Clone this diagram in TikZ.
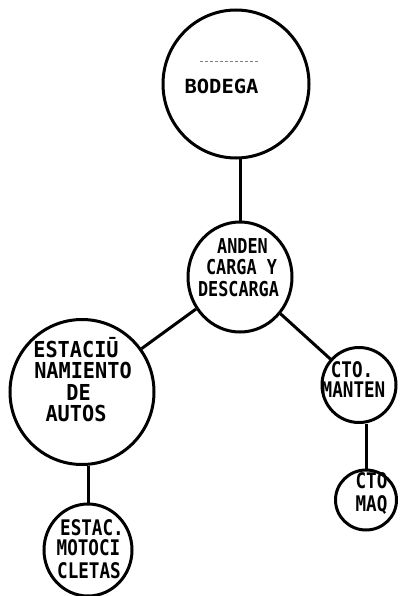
\documentclass[tikz,border=0pt]{standalone}
\usepackage{fontspec}
\setmainfont{DejaVu Sans Mono}
\newfontfamily\fwide{DejaVu Sans Mono}[FakeStretch=1.05]
\newfontfamily\fnarrow{DejaVu Sans Mono}[FakeStretch=0.82]
\newfontfamily\fmid{DejaVu Sans Mono}[FakeStretch=0.92]
\usetikzlibrary{shapes.geometric}
\begin{document}
\begin{tikzpicture}[x=1pt,y=-1pt,
  room/.style={draw=black, line width=3pt, ellipse, inner sep=0pt},
  link/.style={draw=black, line width=3pt},
  lbl/.style={inner sep=0pt, anchor=center, text=black},
  fa/.style={font=\fnarrow\bfseries\fontsize{20.5}{20}\selectfont},
  fb/.style={font=\fnarrow\bfseries\fontsize{21.5}{21}\selectfont},
  fc/.style={font=\fmid\bfseries\fontsize{22}{22}\selectfont}]
\useasboundingbox[fill=white] (0,0) rectangle (399,596);
% rooms
\node[room, minimum width=146pt, minimum height=148pt] (bodega) at (236,84) {};
\node[room, minimum width=104pt, minimum height=110pt] (anden) at (240,277) {};
\node[room, minimum width=144pt, minimum height=145pt] (estac) at (82,392) {};
\node[room, minimum width=74pt, minimum height=75pt] (manten) at (359,385) {};
\node[room, minimum width=61pt, minimum height=60pt] (maq) at (366,500) {};
\node[room, minimum width=88pt, minimum height=92pt] (moto) at (88,550) {};
% connectors
\draw[link] (anden.north) -- (anden.north |- bodega.south);
\draw[link] (anden) -- (estac);
\draw[link] (anden) -- (manten);
\draw[link] (maq.north) -- (maq.north |- manten.south);
\draw[link] (moto.north) -- (moto.north |- estac.south);
% faint stroke in BODEGA
\draw[gray, line width=0.8pt, dash pattern=on 3pt off 2pt] (200,61) -- (258,61);
% labels
\node[lbl, font=\fwide\bfseries\fontsize{19.5}{19}\selectfont] (tbod) at (221.5,86.5) {BODEGA};
\node[lbl, fa] (tan1) at (242.5,246.5) {ANDEN};
\node[lbl, fa] (tan2) at (241.5,267.5) {CARGA Y};
\node[lbl, fa] (tan3) at (238.5,289.5) {DESCARGA};
\node[lbl, fc] (tes1) at (76,348) {ESTACIŪ};
\node[lbl, fc] (tes2) at (83,370) {NAMIENTO};
\node[lbl, fc] (tes3) at (78.5,392.5) {DE};
\node[lbl, fc] (tes4) at (76,413.5) {AUTOS};
\node[lbl, fb] (tmo1) at (92,527.5) {ESTAC.};
\node[lbl, fb] (tmo2) at (88.5,548) {MOTOCI};
\node[lbl, fb] (tmo3) at (89,570.5) {CLETAS};
\node[lbl, fb] (tma1) at (352,370) {CTO.};
\node[lbl, fb] (tma2) at (353.5,390) {MANTEN};
\node[lbl, fb] (tmq1) at (371.5,481) {CTO};
\node[lbl, fb] (tmq2) at (371.5,505) {MAQ};
\end{tikzpicture}
\end{document}
